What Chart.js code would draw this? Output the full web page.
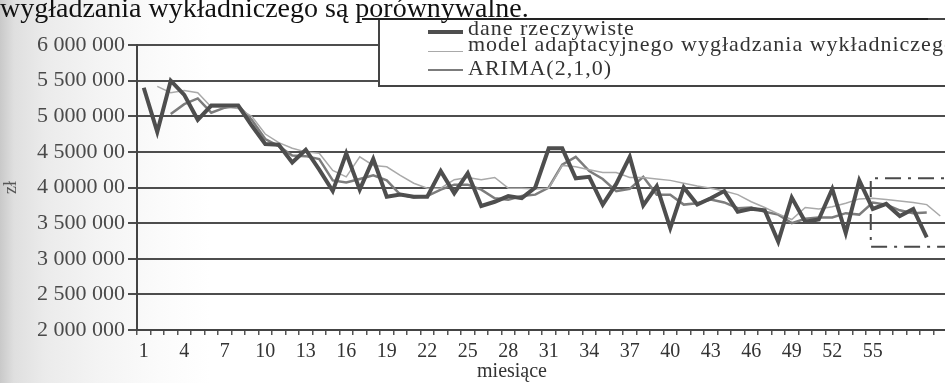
<!DOCTYPE html>
<html lang="pl">
<head>
<meta charset="utf-8">
<script src="https://cdn.jsdelivr.net/npm/chart.js@4.4.1/dist/chart.umd.min.js"></script>
<style>
  html, body { margin: 0; padding: 0; width: 945px; height: 383px; overflow: hidden; }
  body {
    position: relative;
    font-family: "Liberation Serif", "DejaVu Serif", serif;
    background: linear-gradient(to right, #c9c9c9 0px, #dfdfdf 14px, #ebebeb 45px, #f4f4f4 100px, #fbfbfb 160px, #ffffff 210px);
  }
  #doc { position: absolute; left: 0; top: -7px; font-size: 28px; line-height: 30px; color: #111; white-space: nowrap; z-index: 2; }
  #docline { position: absolute; left: 362px; top: 18px; width: 566px; height: 2px; background: #222; z-index: 2; }
  #wrap { position: absolute; left: 0; top: 0; width: 950px; height: 383px; }
  #legend {
    position: absolute; left: 378px; top: 18px; width: 620px; height: 65px;
    background: #fff; border: 2px solid #444; border-right: none;
  }
  .row { position: absolute; left: 0; height: 22px; font-size: 22px; line-height: 22px; color: #333; white-space: nowrap; }
  .row .sym { position: absolute; left: 48px; width: 35px; }
  .row .txt { position: absolute; left: 88px; top: 0; letter-spacing: 1px; }
  #xtitle { position: absolute; left: 452px; top: 359px; width: 120px; text-align: center; font-size: 20px; line-height: 22px; color: #333; }
</style>
</head>
<body>
<div id="doc">wygładzania wykładniczego są porównywalne.</div>
<div id="docline"></div>
<div id="wrap"><canvas id="c" width="950" height="383"></canvas></div>
<div id="legend"></div>
<div id="xtitle">miesiące</div>
<script>
// months 1..60
const months = Array.from({ length: 60 }, (_, i) => String(i + 1));
const xTickLabels = ['1', '4', '7', '10', '13', '16', '19', '22', '25', '28', '31', '34', '37', '40', '43', '46', '49', '52', '55'];

const yTickValues = [2000000, 2500000, 3000000, 3500000, 4000000, 4500000, 5000000, 5500000, 6000000];
const yTickLabels = ['2 000 000', '2 500 000', '3 000 000', '3 500 000', '4 0000 00', '4 5000 00', '5 000 000', '5 500 000', '6 000 000'];

// sprzedaż w zł
const daneRzeczywiste = [
  5400000, 4780000, 5500000, 5300000, 4950000, 5150000, 5150000, 5150000, 4870000, 4610000,
  4600000, 4350000, 4530000, 4250000, 3950000, 4480000, 3970000, 4400000, 3870000, 3900000,
  3870000, 3870000, 4230000, 3920000, 4200000, 3740000, 3800000, 3880000, 3850000, 4000000,
  4550000, 4550000, 4130000, 4150000, 3760000, 4050000, 4430000, 3750000, 4020000, 3430000,
  4000000, 3760000, 3850000, 3950000, 3660000, 3700000, 3680000, 3240000, 3860000, 3520000,
  3550000, 3980000, 3360000, 4100000, 3700000, 3770000, 3600000, 3700000, 3300000
];

const wygladzanie = [
  null, 5420000, 5330000, 5360000, 5330000, 5130000, 5130000, 5110000, 5000000, 4750000,
  4630000, 4550000, 4500000, 4480000, 4240000, 4150000, 4430000, 4310000, 4290000, 4170000,
  4060000, 3990000, 3990000, 4110000, 4140000, 4110000, 4140000, 3990000, 3990000, 3980000,
  3990000, 4310000, 4290000, 4250000, 4210000, 4210000, 4140000, 4140000, 4120000, 4100000,
  4060000, 4020000, 3990000, 3950000, 3900000, 3800000, 3720000, 3630000, 3550000, 3720000,
  3700000, 3730000, 3780000, 3840000, 3850000, 3830000, 3810000, 3790000, 3760000, 3600000
];

const arima = [
  null, null, 5030000, 5170000, 5250000, 5050000, 5120000, 5150000, 4950000, 4680000,
  4580000, 4450000, 4440000, 4400000, 4100000, 4070000, 4120000, 4170000, 4100000, 3900000,
  3860000, 3880000, 3970000, 4040000, 4040000, 3970000, 3850000, 3830000, 3880000, 3900000,
  4000000, 4320000, 4430000, 4230000, 4120000, 3950000, 3980000, 4150000, 3900000, 3900000,
  3760000, 3780000, 3830000, 3790000, 3710000, 3720000, 3660000, 3620000, 3500000, 3560000,
  3580000, 3580000, 3640000, 3620000, 3790000, 3760000, 3680000, 3640000, 3650000
];

// zaznaczony okres prognozy
const forecastFrom = '55';
const forecastRange = [3170000, 4130000];

const serif = '"Liberation Serif", "DejaVu Serif", serif';

// dash-dot frame around the forecast months
const forecastBox = {
  id: 'forecastBox',
  afterDatasetsDraw(chart) {
    const { ctx, scales: { x, y } } = chart;
    const left = x.getPixelForValue(months.indexOf(forecastFrom)) - 2;
    const right = x.right + 20;
    const top = y.getPixelForValue(forecastRange[1]);
    const bottom = y.getPixelForValue(forecastRange[0]);
    ctx.save();
    ctx.strokeStyle = '#4a4a4a';
    ctx.lineWidth = 2;
    ctx.setLineDash([16, 7, 3, 7]);
    ctx.beginPath();
    ctx.moveTo(right, top);
    ctx.lineTo(left, top);
    ctx.lineTo(left, bottom);
    ctx.lineTo(right, bottom);
    ctx.stroke();
    ctx.restore();
  }
};

const chart = new Chart(document.getElementById('c'), {
  type: 'line',
  data: {
    labels: months,
    datasets: [
      { label: 'dane rzeczywiste', data: daneRzeczywiste, borderColor: '#4e4e4e', borderWidth: 4 },
      { label: 'model adaptacyjnego wygładzania wykładniczego', data: wygladzanie, borderColor: '#a9a9a9', borderWidth: 1.5 },
      { label: 'ARIMA(2,1,0)', data: arima, borderColor: '#7c7c7c', borderWidth: 2.5 }
    ]
  },
  options: {
    responsive: false,
    animation: false,
    devicePixelRatio: 1,
    layout: { padding: { top: 45, right: 3, left: 0, bottom: 0 } },
    elements: { point: { radius: 0 }, line: { tension: 0, borderJoinStyle: 'miter' } },
    plugins: { legend: { display: false }, tooltip: { enabled: false } },
    scales: {
      x: {
        offset: true,
        grid: { offset: true, drawOnChartArea: false, drawTicks: true, tickLength: 5, color: '#555', lineWidth: 1.5 },
        border: { color: '#444', width: 2 },
        ticks: {
          autoSkip: false, maxRotation: 0, padding: 5, color: '#333',
          font: { family: serif, size: 20 },
          callback(v) {
            const l = this.getLabelForValue(v);
            return xTickLabels.includes(l) ? l : '';
          }
        },
        afterFit(s) { s.height = 53; }
      },
      y: {
        min: 2000000,
        max: 6000000,
        grid: { color: '#4d4d4d', lineWidth: 2, tickLength: 9 },
        border: { color: '#444', width: 2 },
        ticks: {
          stepSize: 500000, padding: 3, color: '#4a4a4a',
          font: { family: serif, size: 22 },
          callback: v => yTickLabels[yTickValues.indexOf(v)]
        },
        title: { display: true, text: 'zł', color: '#555', font: { family: serif, size: 18 }, padding: 0 },
        afterFit(s) { s.width = 137; }
      }
    }
  },
  plugins: [forecastBox]
});

// legend box built from the datasets
const legendTop = 20;
const rowTops = [17, 33, 57];
const symTops = [13, 18, 12];
const legend = document.getElementById('legend');
chart.data.datasets.forEach((ds, i) => {
  const row = document.createElement('div');
  row.className = 'row';
  row.style.top = (rowTops[i] - legendTop) + 'px';
  const sym = document.createElement('div');
  sym.className = 'sym';
  sym.style.top = symTops[i] + 'px';
  sym.style.borderTop = ds.borderWidth + 'px solid ' + ds.borderColor;
  const txt = document.createElement('span');
  txt.className = 'txt';
  txt.textContent = ds.label;
  row.appendChild(sym);
  row.appendChild(txt);
  legend.appendChild(row);
});
</script>
</body>
</html>
